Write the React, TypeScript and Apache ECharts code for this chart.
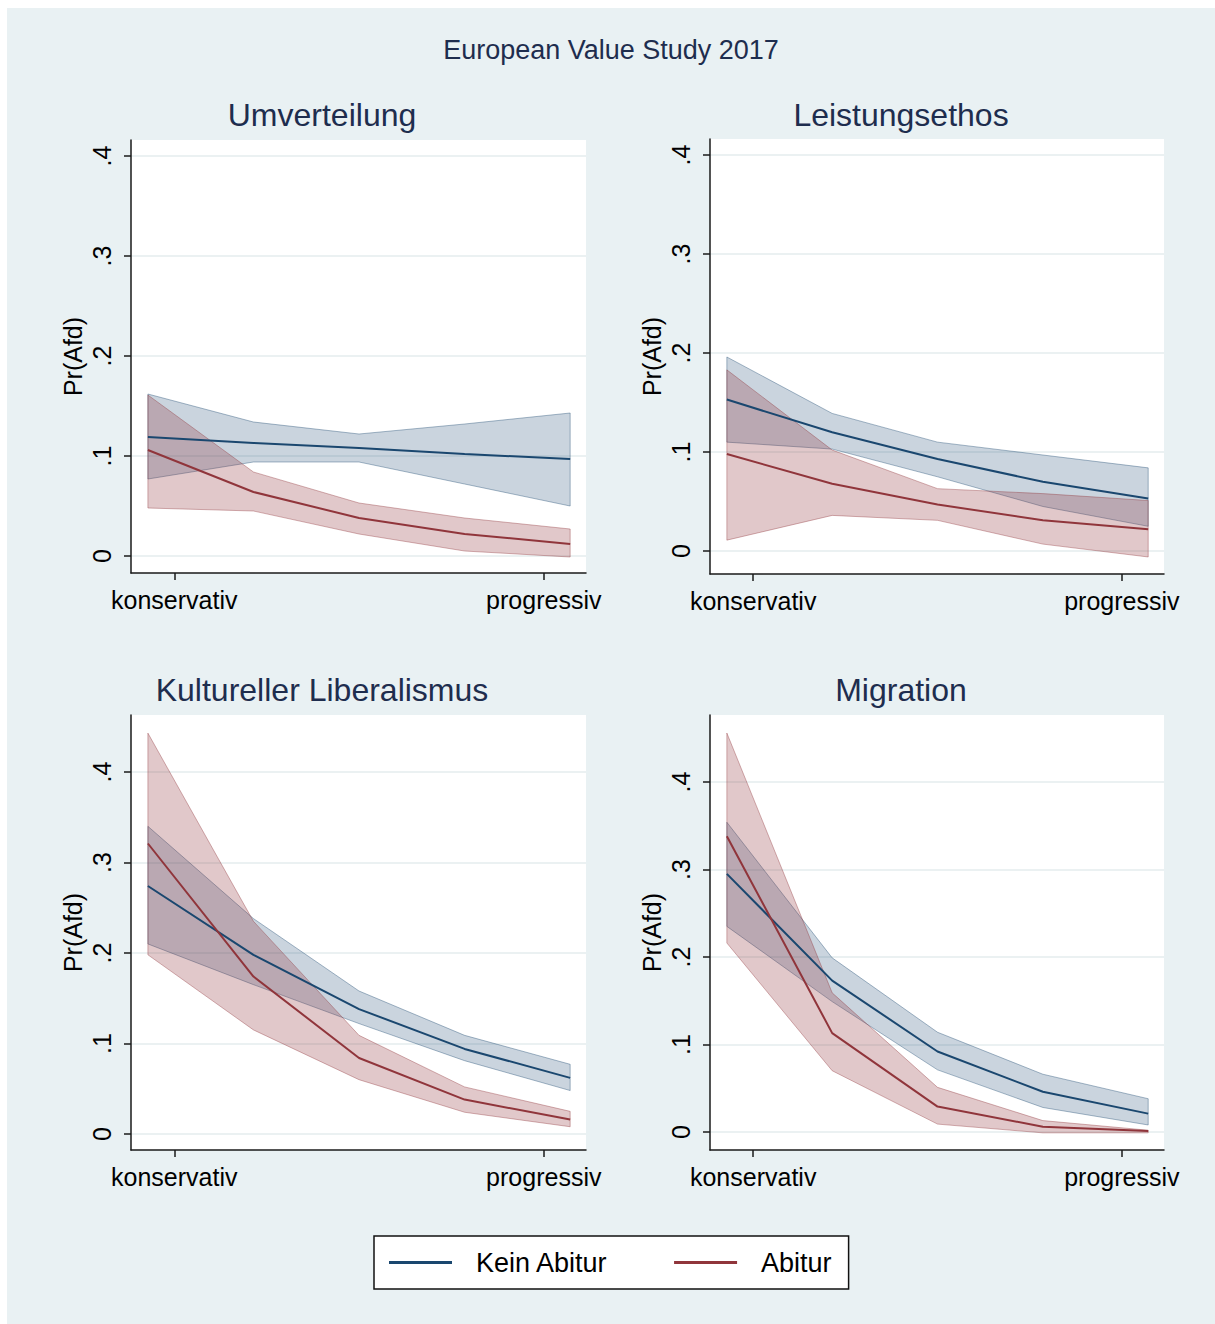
import React, { useEffect, useRef } from "react";
import * as echarts from "echarts";

// ---------- data ----------
const xs = [1, 2, 3, 4, 5];
const xTickValues = [1.25, 4.75];
const xTickLabels = ["konservativ", "progressiv"];
const yTickValues = [0, 0.1, 0.2, 0.3, 0.4];
const seriesNames = ["Kein Abitur", "Abitur"];
const panelTitles = ["Umverteilung", "Leistungsethos", "Kultureller Liberalismus", "Migration"];
const mainTitle = "European Value Study 2017";
const yAxisName = "Pr(Afd)";

// Umverteilung
const umvKeinFit = [0.119, 0.113, 0.108, 0.102, 0.097];
const umvKeinHi = [0.162, 0.134, 0.122, 0.132, 0.143];
const umvKeinLo = [0.077, 0.094, 0.094, 0.072, 0.05];
const umvAbiFit = [0.106, 0.064, 0.038, 0.022, 0.012];
const umvAbiHi = [0.161, 0.084, 0.053, 0.038, 0.027];
const umvAbiLo = [0.048, 0.045, 0.022, 0.005, -0.001];

// Leistungsethos
const leiKeinFit = [0.153, 0.12, 0.093, 0.07, 0.053];
const leiKeinHi = [0.196, 0.139, 0.11, 0.097, 0.084];
const leiKeinLo = [0.11, 0.103, 0.075, 0.045, 0.025];
const leiAbiFit = [0.098, 0.068, 0.047, 0.031, 0.022];
const leiAbiHi = [0.183, 0.102, 0.063, 0.058, 0.051];
const leiAbiLo = [0.011, 0.036, 0.031, 0.007, -0.006];

// Kultureller Liberalismus
const kulKeinFit = [0.274, 0.198, 0.138, 0.094, 0.062];
const kulKeinHi = [0.34, 0.238, 0.158, 0.109, 0.077];
const kulKeinLo = [0.21, 0.165, 0.122, 0.081, 0.048];
const kulAbiFit = [0.321, 0.174, 0.084, 0.038, 0.016];
const kulAbiHi = [0.443, 0.235, 0.109, 0.052, 0.025];
const kulAbiLo = [0.198, 0.115, 0.06, 0.024, 0.008];

// Migration
const migKeinFit = [0.295, 0.173, 0.092, 0.046, 0.021];
const migKeinHi = [0.354, 0.199, 0.114, 0.066, 0.038];
const migKeinLo = [0.235, 0.149, 0.071, 0.028, 0.008];
const migAbiFit = [0.338, 0.113, 0.029, 0.006, 0.001];
const migAbiHi = [0.456, 0.159, 0.051, 0.013, 0.002];
const migAbiLo = [0.216, 0.07, 0.009, -0.001, -0.001];

const panels = [
  { kein: [umvKeinFit, umvKeinHi, umvKeinLo], abi: [umvAbiFit, umvAbiHi, umvAbiLo] },
  { kein: [leiKeinFit, leiKeinHi, leiKeinLo], abi: [leiAbiFit, leiAbiHi, leiAbiLo] },
  { kein: [kulKeinFit, kulKeinHi, kulKeinLo], abi: [kulAbiFit, kulAbiHi, kulAbiLo] },
  { kein: [migKeinFit, migKeinHi, migKeinLo], abi: [migAbiFit, migAbiHi, migAbiLo] },
];

// ---------- layout / style ----------
const FONT = '"Liberation Sans", Arial, Helvetica, sans-serif';
const NAVY = "#1a476f";
const MAROON = "#90353b";
const BAND_FILL = ["rgba(26,71,111,0.23)", "rgba(144,53,59,0.27)"];
const BAND_EDGE = ["rgba(26,71,111,0.38)", "rgba(144,53,59,0.38)"];
const TITLE_COLOR = "#1e2d4e";
const AXIS_COLOR = "#1a1a1a";

const grids = [
  { left: 131, top: 140, width: 455, height: 433 },
  { left: 710, top: 139, width: 454, height: 435 },
  { left: 131, top: 715, width: 455, height: 435 },
  { left: 710, top: 715, width: 454, height: 435 },
];
const yRanges = [
  [-0.017, 0.416],
  [-0.0232, 0.4162],
  [-0.0177, 0.463],
  [-0.0206, 0.4766],
];
const titlePos = [
  [322, 115],
  [901, 115],
  [322, 690],
  [901, 690],
];

function bandRender(hi: number[], lo: number[], fill: string, stroke: string) {
  return (params: any, api: any) => {
    if (params.dataIndex !== 0) return { type: "group", children: [] };
    const pts: number[][] = [];
    for (let k = 0; k < xs.length; k++) pts.push(api.coord([xs[k], hi[k]]));
    for (let k = xs.length - 1; k >= 0; k--) pts.push(api.coord([xs[k], lo[k]]));
    return {
      type: "polygon",
      shape: { points: pts },
      style: { fill, stroke, lineWidth: 1 },
    };
  };
}

function fmtY(v: number) {
  if (Math.abs(v) < 1e-9) return "0";
  return String(Math.round(v * 10) / 10).replace(/^0/, "");
}

function buildOption() {
  const series: any[] = [];
  panels.forEach((p, i) => {
    const groups = [p.kein, p.abi];
    groups.forEach((g, s) => {
      series.push({
        type: "custom",
        name: seriesNames[s] + " KI",
        xAxisIndex: i,
        yAxisIndex: i,
        z: 2,
        renderItem: bandRender(g[1], g[2], BAND_FILL[s], BAND_EDGE[s]),
        encode: { x: 0, y: [1, 2] },
        data: xs.map((x, k) => [x, g[1][k], g[2][k]]),
        silent: true,
      });
    });
    groups.forEach((g, s) => {
      const c = s === 0 ? NAVY : MAROON;
      series.push({
        type: "line",
        name: seriesNames[s],
        xAxisIndex: i,
        yAxisIndex: i,
        z: 3,
        symbol: "none",
        showSymbol: false,
        color: c,
        itemStyle: { color: c },
        lineStyle: { color: c, width: 2 },
        data: xs.map((x, k) => [x, g[0][k]]),
      });
    });
  });

  const axisLineStyle = { color: AXIS_COLOR, width: 1.5 };

  return {
    animation: false,
    textStyle: { fontFamily: FONT },
    grid: grids.map((g) => ({
      ...g,
      show: true,
      backgroundColor: "#ffffff",
      borderWidth: 0,
      containLabel: false,
    })),
    xAxis: grids.map((_, i) => ({
      type: "value",
      gridIndex: i,
      min: 0.84,
      max: 5.15,
      axisLine: { show: true, onZero: false, lineStyle: axisLineStyle },
      axisTick: { show: true, length: 7, customValues: xTickValues, lineStyle: axisLineStyle },
      axisLabel: {
        customValues: xTickValues,
        formatter: (v: number) => (v < 3 ? xTickLabels[0] : xTickLabels[1]),
        fontSize: 25,
        color: "#000",
        margin: 14,
        fontFamily: FONT,
      },
      splitLine: { show: false },
    })),
    yAxis: grids.map((_, i) => ({
      type: "value",
      gridIndex: i,
      min: yRanges[i][0],
      max: yRanges[i][1],
      name: yAxisName,
      nameLocation: "middle",
      nameRotate: 90,
      nameGap: 46,
      nameTextStyle: { fontSize: 25, color: "#000", fontFamily: FONT },
      axisLine: { show: true, onZero: false, lineStyle: axisLineStyle },
      axisTick: { show: true, length: 7, customValues: yTickValues, lineStyle: axisLineStyle },
      axisLabel: {
        customValues: yTickValues,
        rotate: 90,
        formatter: fmtY,
        fontSize: 25,
        color: "#000",
        margin: 17,
        fontFamily: FONT,
      },
      splitLine: { show: true, lineStyle: { color: "#E4ECEE", width: 1.5 } },
    })),
    legend: {
      data: seriesNames,
      left: 374,
      top: 1236,
      orient: "horizontal",
      icon: "rect",
      itemWidth: 63,
      itemHeight: 3,
      itemGap: 66,
      padding: [13, 17, 13, 15],
      backgroundColor: "#ffffff",
      borderColor: "#111111",
      borderWidth: 1.5,
      borderRadius: 0,
      selectedMode: false,
      textStyle: { fontSize: 27, color: "#000", padding: [0, 0, 0, 19], fontFamily: FONT },
    },
    graphic: [
      {
        type: "text",
        x: 611,
        y: 50,
        style: {
          text: mainTitle,
          font: `27px ${FONT}`,
          fill: TITLE_COLOR,
          textAlign: "center",
          textVerticalAlign: "middle",
        },
      },
      ...panelTitles.map((t, i) => ({
        type: "text",
        x: titlePos[i][0],
        y: titlePos[i][1],
        style: {
          text: t,
          font: `32px ${FONT}`,
          fill: TITLE_COLOR,
          textAlign: "center",
          textVerticalAlign: "middle",
        },
      })),
    ],
    series,
  };
}

export default function App() {
  const ref = useRef<HTMLDivElement>(null);
  useEffect(() => {
    if (!ref.current) return;
    const chart = echarts.init(ref.current, undefined, { renderer: "svg" });
    chart.setOption(buildOption() as any);
    return () => chart.dispose();
  }, []);
  return (
    <div style={{ position: "fixed", left: 0, top: 0, width: 1215, height: 1324, background: "#ffffff", overflow: "hidden" }}>
      <div style={{ position: "absolute", left: 7, top: 8, width: 1208, height: 1316, background: "#E9F1F3" }} />
      <div ref={ref} style={{ position: "absolute", left: 0, top: 0, width: 1215, height: 1324 }} />
    </div>
  );
}
